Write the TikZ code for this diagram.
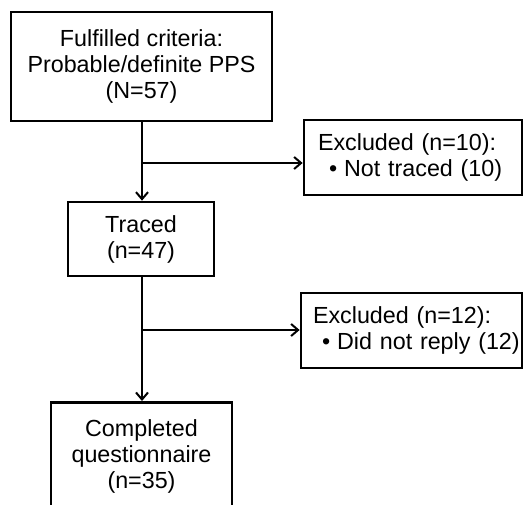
\documentclass[tikz,border=0pt]{standalone}
\usepackage{fontspec}
\setmainfont{Liberation Sans}
\usetikzlibrary{arrows.meta}
\begin{document}
\begin{tikzpicture}[x=1pt,y=-1pt,
  box/.style={draw=black, line width=2.7pt, align=center, inner sep=0pt,
    font=\fontsize{23.3}{26}\selectfont},
  exbox/.style={draw=black, line width=2.7pt, align=left, inner ysep=0pt, inner xsep=8pt,
    text width=#1, minimum height=75pt, font=\fontsize{23.3}{26}\selectfont},
  conn/.style={line width=2pt, -{Straight Barb[length=7pt,width=12pt,line width=2pt]}}]
\useasboundingbox (0,0) rectangle (524,504);
\clip (0,0) rectangle (524,504);
\node[box, minimum width=261pt, minimum height=109pt] (a) at (141.5,66.5)
  {Fulfilled criteria:\\Probable/definite PPS\\(N=57)};
\node[exbox=202pt] (e1) at (413,157.5)
  {\mbox{\hspace*{6pt}Excluded (n=10):}\\\mbox{\hspace*{17pt}\textbullet\hspace{7pt}Not traced (10)}};
\node[box, minimum width=146pt, minimum height=74pt] (t) at (141,239)
  {Traced\\(n=47)};
\node[exbox=205pt] (e2) at (411.5,330.5)
  {\mbox{\hspace*{4pt}Excluded (n=12):}\\\mbox{\hspace*{13pt}\textbullet\hspace{7pt}Did not reply (12)}};
\node[box, minimum width=181pt, minimum height=108pt, anchor=north] (c) at (141.5,401)
  {Completed\\questionnaire\\(n=35)};
\coordinate (b1) at (142,163);
\coordinate (b2) at (142,330);
\draw[conn] (a.south -| b1) -- (t.north -| b1);
\draw[conn] (b1) -- (b1 -| e1.west);
\draw[conn] (t.south -| b2) -- (c.north -| b2);
\draw[conn] (b2) -- (b2 -| e2.west);
\end{tikzpicture}
\end{document}
